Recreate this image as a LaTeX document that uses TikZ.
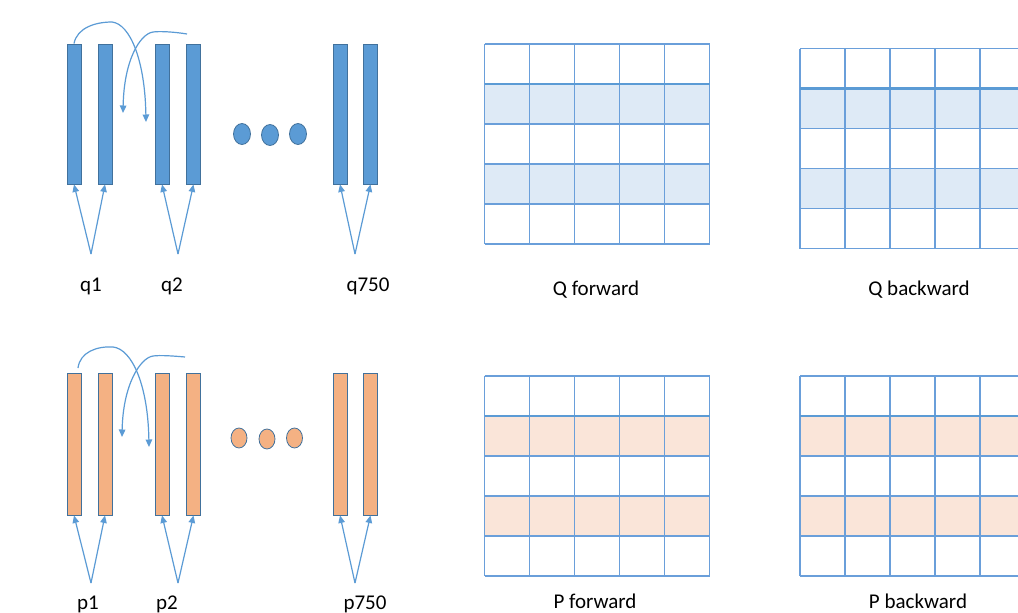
\documentclass[tikz,border=0pt]{standalone}
\usepackage{fontspec}
\setmainfont{Carlito}
\usetikzlibrary{shapes.geometric,arrows.meta}
\definecolor{barblue}{HTML}{5B9BD5}
\definecolor{barline}{HTML}{41719C}
\definecolor{barorange}{HTML}{F4B183}
\definecolor{arrowblue}{HTML}{5B9BD5}
\definecolor{gridblue}{HTML}{6A9FDA}
\definecolor{shadeblue}{HTML}{DEEAF6}
\definecolor{shadeorange}{HTML}{FAE5D9}
\tikzset{
  qbar/.style={draw=barline, line width=0.9pt, fill=barblue, rectangle, inner sep=0pt, minimum width=14, minimum height=140},
  pbar/.style={draw=barline, line width=0.9pt, fill=barorange, rectangle, inner sep=0pt, minimum width=14, minimum height=142},
  qdot/.style={draw=barline, line width=0.8pt, fill=barblue, ellipse, inner sep=0pt, minimum width=17, minimum height=21},
  pdot/.style={draw=barline, line width=0.8pt, fill=barorange, ellipse, inner sep=0pt, minimum width=16, minimum height=20},
  conn/.style={draw=arrowblue, line width=1.2pt, -{Triangle[length=7.5pt,width=6.5pt]}},
  lbl/.style={anchor=base, inner sep=0pt, font=\fontsize{21}{24}\selectfont},
  gridline/.style={draw=gridblue, line width=1.3pt},
  thickgrid/.style={draw=barblue, line width=2.2pt},
}
\newcommand\mygrid[3]{%
  \fill[#3] (#1,#2+40) rectangle ++(225,40);
  \fill[#3] (#1,#2+120) rectangle ++(225,40);
  \foreach \i in {0,...,5} {\draw[gridline] (#1+45*\i,#2) -- ++(0,200);}
  \foreach \j in {0,2,3,4,5} {\draw[gridline] (#1,#2+40*\j) -- ++(225,0);}
  \draw[thickgrid] (#1,#2+40) -- ++(225,0);
}
\begin{document}
\begin{tikzpicture}[x=1pt,y=-1pt]
\useasboundingbox (0,0) rectangle (1018,613);
\clip (0,0) rectangle (1018,613);
\fill[white] (0,0) rectangle (1018,613);

% ---------- Q row ----------
\node[qbar] (q1a) at (74,114) {};
\node[qbar] (q1b) at (105,114) {};
\node[qbar] (q2a) at (162,114) {};
\node[qbar] (q2b) at (193.5,114) {};
\node[qbar] (q7a) at (340,114) {};
\node[qbar] (q7b) at (370.5,114) {};
\node[qdot] (qd1) at (242,134) {};
\node[qdot] (qd2) at (270,135) {};
\node[qdot] (qd3) at (298,134) {};

\coordinate (qs1) at (91,254);
\coordinate (qs2) at (178,254);
\coordinate (qs7) at (355,254);
\draw[conn] (qs1) -- (q1a.south);
\draw[conn] (qs1) -- (q1b.south);
\draw[conn] (qs2) -- (q2a.south);
\draw[conn] (qs2) -- (q2b.south);
\draw[conn] (qs7) -- (q7a.south);
\draw[conn] (qs7) -- (q7b.south);

\coordinate (qc1) at (146,122);
\coordinate (qc2s) at (187,34);
\coordinate (qc2) at (123,113);
\draw[conn] (q1a.north) .. controls (77,28) and (95,22) .. (112,22)
  .. controls (130,24) and (145,60) .. (qc1);
\draw[conn] (qc2s) .. controls (175,32) and (160,31) .. (153,32)
  .. controls (140,34) and (124,60) .. (qc2);

\node[lbl] (lq1) at (91,291) {q1};
\node[lbl] (lq2) at (172,291) {q2};
\node[lbl] (lq7) at (368,291) {q750};

% ---------- P row ----------
\node[pbar] (p1a) at (74,444) {};
\node[pbar] (p1b) at (105,444) {};
\node[pbar] (p2a) at (162,444) {};
\node[pbar] (p2b) at (193.5,444) {};
\node[pbar] (p7a) at (340,444) {};
\node[pbar] (p7b) at (370.5,444) {};
\node[pdot] (pd1) at (239,438) {};
\node[pdot] (pd2) at (267,439) {};
\node[pdot] (pd3) at (294.5,438) {};

\coordinate (ps1) at (91,583);
\coordinate (ps2) at (178,583);
\coordinate (ps7) at (355,583);
\draw[conn] (ps1) -- (p1a.south);
\draw[conn] (ps1) -- (p1b.south);
\draw[conn] (ps2) -- (p2a.south);
\draw[conn] (ps2) -- (p2b.south);
\draw[conn] (ps7) -- (p7a.south);
\draw[conn] (ps7) -- (p7b.south);

\coordinate (pc1s) at (78,368);
\coordinate (pc1) at (149,447);
\coordinate (pc2s) at (185,357);
\coordinate (pc2) at (122,437);
\draw[conn] (pc1s) .. controls (80,352) and (97,346) .. (113,347)
  .. controls (132,349) and (148,385) .. (pc1);
\draw[conn] (pc2s) .. controls (174,356) and (160,355) .. (153,356)
  .. controls (140,358) and (123,385) .. (pc2);

\node[lbl] (lp1) at (88,609) {p1};
\node[lbl] (lp2) at (167,609) {p2};
\node[lbl] (lp7) at (365,609) {p750};

% ---------- grids ----------
\mygrid{484.5}{44}{shadeblue}
\mygrid{800}{48.5}{shadeblue}
\mygrid{484.5}{376}{shadeorange}
\mygrid{800}{376}{shadeorange}

\node[lbl] (lqf) at (596,295) {Q forward};
\node[lbl] (lqb) at (919,295) {Q backward};
\node[lbl] (lpf) at (595,608) {P forward};
\node[lbl] (lpb) at (918,608) {P backward};
\end{tikzpicture}
\end{document}
